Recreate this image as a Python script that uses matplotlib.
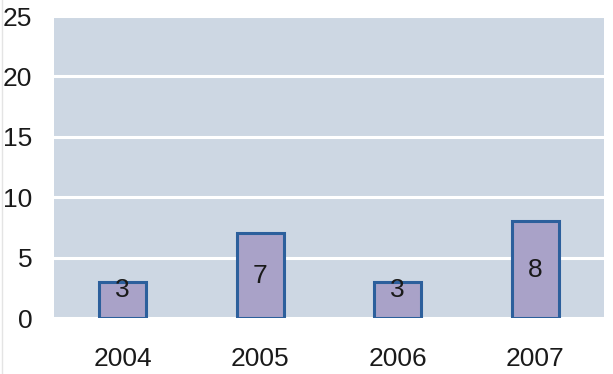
import matplotlib
matplotlib.use("Agg")
import matplotlib.pyplot as plt
from matplotlib.lines import Line2D

years = ["2004", "2005", "2006", "2007"]
values = [3, 7, 3, 8]
yticks = [0, 5, 10, 15, 20, 25]

plt.rcParams['font.family'] = ['Liberation Sans', 'DejaVu Sans']

fig = plt.figure(figsize=(6.13, 3.74), dpi=100)
ax = fig.add_axes([54/613, (374-318)/374, (604-54)/613, (318-16)/374])
ax.set_facecolor('#CDD7E3')
x = list(range(len(years)))
ax.bar(x, values, width=0.34, color='#A9A2C8', edgecolor='#2C5F9C', linewidth=2.2, zorder=3)
for xi, v in zip(x, values):
    ax.text(xi, max(v/2, 2.3), str(v), ha='center', va='center', fontsize=19, color='#1a1a1a', zorder=4)
ax.set_xlim(-0.5, len(years)-0.5)
ax.set_ylim(0, 25)
ax.set_yticks(yticks)
ax.set_yticklabels([str(t) for t in yticks])
ax.set_xticks(x)
ax.set_xticklabels(years)
ax.yaxis.grid(True, color='white', linewidth=2.2, zorder=1)
ax.set_axisbelow(True)
for s in ax.spines.values():
    s.set_visible(False)
ax.tick_params(axis='both', length=0, labelsize=19, colors='#1a1a1a')
ax.tick_params(axis='y', pad=15.5)
ax.tick_params(axis='x', pad=21)
fig.add_artist(Line2D([2/613, 2/613], [0, 1], color='#E4E4E4', linewidth=1, transform=fig.transFigure))
fig.savefig("out.png", dpi=100)
